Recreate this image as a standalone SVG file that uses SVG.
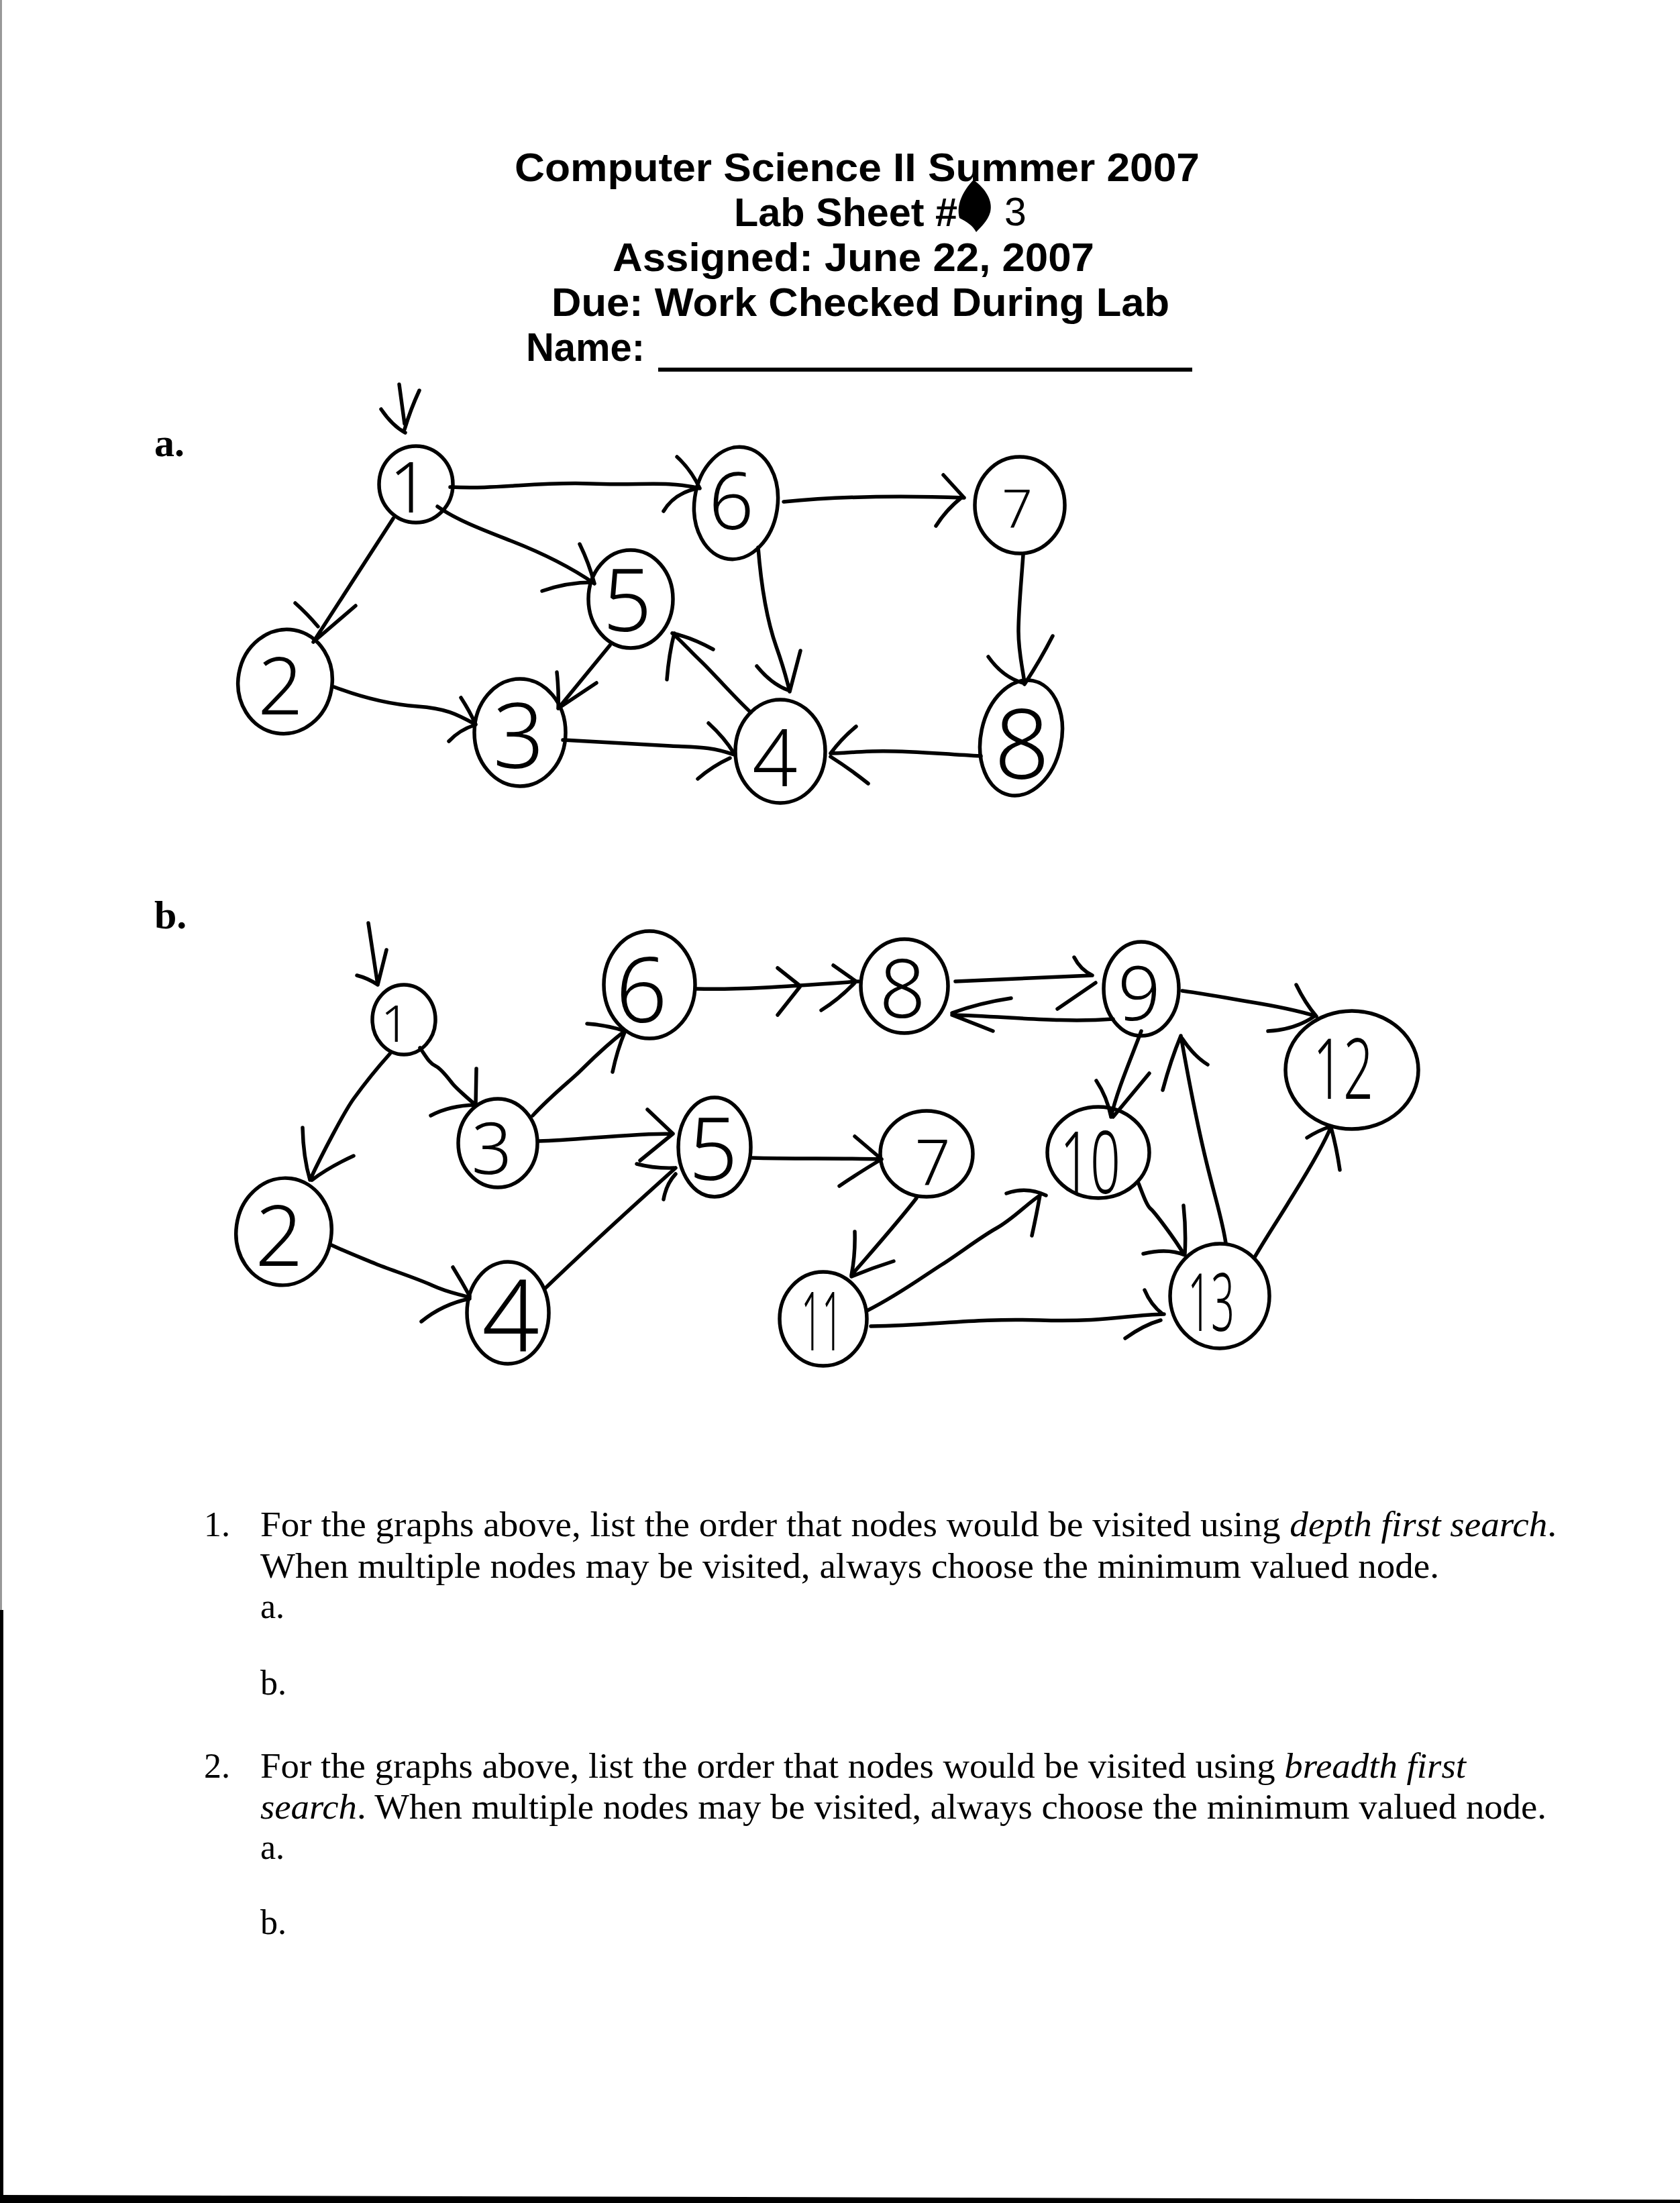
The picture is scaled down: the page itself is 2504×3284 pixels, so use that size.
<svg xmlns="http://www.w3.org/2000/svg" width="2504" height="3284" viewBox="0 0 2504 3284">
<style>
.hd{font-family:"Liberation Sans",Arial,sans-serif;font-weight:700;font-size:59px;fill:#000}
.lb{font-family:"Liberation Serif","Times New Roman",serif;font-weight:700;font-size:60px;fill:#000}
.q{font-family:"Liberation Serif","Times New Roman",serif;font-size:52px;fill:#000}
.n{fill:none;stroke:#000;stroke-width:5.5}
.d{font-family:"Noto Sans","DejaVu Sans",sans-serif;font-weight:300;fill:#000;text-anchor:middle}
.c path{fill:none;stroke:#000;stroke-width:5.5;stroke-linecap:round;stroke-linejoin:round}
</style>
<rect width="2504" height="3284" fill="#fff"/>
<!-- page edges -->
<rect x="0" y="0" width="3" height="2400" fill="#999"/>
<rect x="0" y="2400" width="5" height="884" fill="#000"/>
<polygon points="0,3272 2504,3279 2504,3284 0,3284" fill="#000"/>

<!-- header -->
<g id="header">
<text class="hd" x="767" y="270" textLength="1021" lengthAdjust="spacingAndGlyphs">Computer Science II Summer 2007</text>
<text class="hd" x="1094" y="337"><tspan textLength="333" lengthAdjust="spacingAndGlyphs">Lab Sheet #</tspan><tspan x="1497" y="336" font-weight="400">3</tspan></text>
<path d="M1451 268 C1470 282,1480 300,1476 316 C1472 330,1462 338,1455 346 C1450 336,1440 330,1430 325 C1425 305,1435 285,1451 268 Z" fill="#000"/>
<text class="hd" x="913" y="404" textLength="718" lengthAdjust="spacingAndGlyphs">Assigned: June 22, 2007</text>
<text class="hd" x="822" y="471" textLength="921" lengthAdjust="spacingAndGlyphs">Due: Work Checked During Lab</text>
<text class="hd" x="784" y="538" textLength="177" lengthAdjust="spacingAndGlyphs">Name:</text>
<rect x="981" y="548" width="796" height="6" fill="#000"/>
</g>

<text class="lb" x="230" y="680">a.</text>
<text class="lb" x="230" y="1384">b.</text>

<!-- graph a nodes -->
<g id="a1"><ellipse class="n" cx="620" cy="722" rx="55" ry="57"/><text class="d" x="610" y="764" font-size="105">1</text></g>
<g id="a2"><ellipse class="n" cx="425" cy="1016" rx="70" ry="78" transform="rotate(10 425 1016)"/><text class="d" x="418" y="1065" font-size="118">2</text></g>
<g id="a3"><ellipse class="n" cx="775" cy="1092" rx="68" ry="80"/><text class="d" x="773" y="1145" font-size="134">3</text></g>
<g id="a4"><ellipse class="n" cx="1163" cy="1120" rx="67" ry="77"/><text class="d" x="1155" y="1172" font-size="118">4</text></g>
<g id="a5"><ellipse class="n" cx="940" cy="893" rx="63" ry="73"/><text class="d" x="935" y="941" font-size="128">5</text></g>
<g id="a6"><ellipse class="n" cx="1097" cy="750" rx="62" ry="84" transform="rotate(8 1097 750)"/><text class="d" x="1090" y="789" font-size="118">6</text></g>
<g id="a7"><ellipse class="n" cx="1520" cy="753" rx="67" ry="72"/><text class="d" x="1516" y="787" font-size="80">7</text></g>
<g id="a8"><ellipse class="n" cx="1522" cy="1100" rx="60" ry="87" transform="rotate(12 1522 1100)"/><text class="d" x="1523" y="1161" font-size="144">8</text></g>

<!-- graph b nodes -->
<g id="b1"><ellipse class="n" cx="602" cy="1520" rx="47" ry="52"/><text class="d" x="589" y="1553" font-size="75">1</text></g>
<g id="b2"><ellipse class="n" cx="423" cy="1836" rx="71" ry="80" transform="rotate(8 423 1836)"/><text class="d" x="416" y="1887" font-size="125">2</text></g>
<g id="b3"><ellipse class="n" cx="742" cy="1704" rx="59" ry="66"/><text class="d" x="733" y="1750" font-size="106">3</text></g>
<g id="b4"><ellipse class="n" cx="757" cy="1957" rx="61" ry="76"/><text class="d" x="761" y="2015" font-size="150">4</text></g>
<g id="b5"><ellipse class="n" cx="1065" cy="1710" rx="54" ry="74"/><text class="d" x="1063" y="1759" font-size="128">5</text></g>
<g id="b6"><ellipse class="n" cx="968" cy="1468" rx="68" ry="80"/><text class="d" x="956" y="1524" font-size="135">6</text></g>
<g id="b7"><ellipse class="n" cx="1381" cy="1720" rx="69" ry="64"/><text class="d" x="1390" y="1766" font-size="93">7</text></g>
<g id="b8"><ellipse class="n" cx="1348" cy="1470" rx="65" ry="70"/><text class="d" x="1345" y="1517" font-size="121">8</text></g>
<g id="b9"><ellipse class="n" cx="1701" cy="1474" rx="56" ry="70"/><text class="d" x="1698" y="1521" font-size="112">9</text></g>
<g id="b10"><ellipse class="n" cx="1637" cy="1718" rx="76" ry="68"/><text class="d" x="1625" y="1779" font-size="128" textLength="90" lengthAdjust="spacingAndGlyphs">10</text></g>
<g id="b11"><ellipse class="n" cx="1227" cy="1966" rx="65" ry="70"/><text class="d" x="1225" y="2013" font-size="122" textLength="62" lengthAdjust="spacingAndGlyphs">11</text></g>
<g id="b12"><ellipse class="n" cx="2015" cy="1595" rx="99" ry="88"/><text class="d" x="2002" y="1638" font-size="125" textLength="90" lengthAdjust="spacingAndGlyphs">12</text></g>
<g id="b13"><ellipse class="n" cx="1818" cy="1932" rx="74" ry="78"/><text class="d" x="1805" y="1984" font-size="120" textLength="70" lengthAdjust="spacingAndGlyphs">13</text></g>

<!-- connectors -->
<g id="connectors" class="c">
<!-- graph a -->
<path d="M595 573 L603 632 M568 610 Q585 635 604 645 M625 582 Q612 610 603 640"/>
<path d="M671 726 C740 730,800 718,880 721 S990 716,1043 728 M1009 681 Q1030 700 1043 728 M989 762 Q1005 735 1040 728"/>
<path d="M652 755 C680 775,720 790,761 806 S850 845,886 870 M864 811 Q878 840 886 870 M808 881 Q845 868 884 868"/>
<path d="M586 773 L467 957 M530 903 L467 957 M440 899 Q458 915 474 934"/>
<path d="M498 1024 C540 1040,580 1050,622 1053 S680 1064,709 1080 M687 1040 Q700 1060 709 1080 M669 1105 Q685 1088 707 1081"/>
<path d="M909 962 L832 1056 M830 1002 Q833 1030 832 1056 M889 1018 L832 1056"/>
<path d="M839 1103 C900 1106,960 1110,1000 1112 S1060 1113,1094 1125 M1056 1078 Q1080 1100 1094 1123 M1040 1161 Q1062 1142 1088 1130"/>
<path d="M1119 1062 C1095 1040,1060 1000,1045 986 S1015 955,1002 944 M1063 968 Q1030 950 1002 944 M994 1013 Q997 975 1005 944"/>
<path d="M1130 816 C1135 880,1145 930,1157 964 S1172 1010,1177 1031 M1128 993 Q1150 1020 1175 1029 M1193 970 Q1185 1000 1177 1031"/>
<path d="M1168 748 C1250 740,1330 738,1437 742 M1406 708 L1437 742 M1395 784 Q1410 760 1435 740"/>
<path d="M1525 827 C1522 870,1518 910,1518 941 S1524 995,1527 1018 M1473 979 Q1495 1010 1525 1018 M1569 948 Q1550 985 1527 1020"/>
<path d="M1462 1127 C1400 1124,1350 1118,1300 1120 S1260 1123,1238 1123 M1276 1083 Q1255 1100 1238 1123 M1294 1168 Q1265 1145 1238 1128"/>
<!-- graph b -->
<path d="M549 1376 L563 1468 M576 1416 L563 1468 M532 1454 Q548 1458 563 1468"/>
<path d="M581 1571 C555 1600,540 1620,527 1638 S480 1720,462 1759 M451 1681 Q452 1725 462 1759 M527 1723 Q490 1740 465 1759"/>
<path d="M626 1562 C635 1575,640 1585,649 1589 S670 1610,675 1616 S700 1640,709 1647 M710 1593 L709 1647 M642 1663 Q670 1648 709 1647"/>
<path d="M494 1856 C520 1868,541 1876,560 1884 S620 1905,644 1916 S680 1928,700 1934 M675 1889 Q688 1910 700 1932 M628 1970 Q660 1944 700 1936"/>
<path d="M794 1663 C820 1635,845 1615,859 1602 S895 1565,931 1537 M875 1526 Q905 1528 931 1537 M913 1598 Q920 1565 931 1539"/>
<path d="M803 1701 C860 1700,930 1690,1003 1690 M965 1654 L1003 1690 L954 1730"/>
<path d="M812 1921 C860 1875,930 1810,1007 1741 M949 1735 Q975 1742 1005 1741 M989 1788 Q993 1765 1007 1750"/>
<path d="M1038 1474 C1100 1476,1180 1470,1280 1463 M1159 1443 L1193 1470 L1159 1513 M1242 1439 L1276 1463 M1224 1506 Q1250 1490 1274 1465"/>
<path d="M1424 1463 L1628 1454 M1601 1427 Q1610 1445 1628 1454 M1576 1504 L1633 1465"/>
<path d="M1659 1519 C1580 1525,1500 1515,1419 1513 M1507 1488 Q1460 1495 1419 1510 M1480 1537 Q1450 1525 1419 1513"/>
<path d="M1762 1477 C1800 1482,1829 1488,1860 1493 S1930 1505,1962 1515 M1932 1468 Q1945 1495 1962 1515 M1890 1537 Q1930 1535 1959 1515"/>
<path d="M1701 1537 C1685 1580,1665 1625,1656 1665 M1634 1611 Q1650 1635 1656 1665 M1713 1600 L1659 1665"/>
<path d="M1697 1764 C1705 1785,1710 1798,1715 1802 S1750 1845,1764 1869 M1764 1797 Q1768 1835 1766 1869 M1704 1869 Q1740 1860 1766 1871"/>
<path d="M1827 1853 C1822 1820,1815 1800,1800 1740 S1775 1629,1760 1544 M1733 1625 Q1745 1580 1760 1544 M1800 1587 Q1780 1575 1762 1548"/>
<path d="M1870 1874 C1890 1840,1910 1810,1919 1795 S1970 1715,1984 1679 M1948 1696 Q1965 1685 1984 1679 M1997 1744 Q1992 1710 1984 1681"/>
<path d="M1298 1977 C1400 1975,1450 1965,1550 1968 S1680 1960,1735 1959 M1706 1923 Q1715 1945 1733 1959 M1677 1995 Q1705 1975 1730 1968"/>
<path d="M1292 1954 C1340 1930,1380 1900,1404 1885 S1460 1845,1485 1831 S1530 1795,1550 1782 M1500 1779 Q1530 1768 1559 1782 M1538 1842 Q1545 1810 1550 1782"/>
<path d="M1366 1786 C1340 1820,1300 1865,1269 1901 M1274 1836 Q1275 1870 1269 1901 M1332 1880 Q1300 1890 1269 1903"/>
<path d="M1121 1726 C1180 1728,1250 1726,1314 1728 M1274 1694 L1314 1728 M1251 1768 Q1285 1745 1314 1728"/>
</g>

<!-- questions -->
<g id="questions">
<text class="q" x="304" y="2290">1.</text>
<text class="q" x="388" y="2290" textLength="1932" lengthAdjust="spacingAndGlyphs">For the graphs above, list the order that nodes would be visited using <tspan font-style="italic">depth first search</tspan>.</text>
<text class="q" x="388" y="2352" textLength="1757" lengthAdjust="spacingAndGlyphs">When multiple nodes may be visited, always choose the minimum valued node.</text>
<text class="q" x="388" y="2412">a.</text>
<text class="q" x="388" y="2526">b.</text>
<text class="q" x="304" y="2650">2.</text>
<text class="q" x="388" y="2650" textLength="1797" lengthAdjust="spacingAndGlyphs">For the graphs above, list the order that nodes would be visited using <tspan font-style="italic">breadth first</tspan></text>
<text class="q" x="388" y="2711" textLength="1917" lengthAdjust="spacingAndGlyphs"><tspan font-style="italic">search</tspan>. When multiple nodes may be visited, always choose the minimum valued node.</text>
<text class="q" x="388" y="2771">a.</text>
<text class="q" x="388" y="2883">b.</text>
</g>
</svg>
